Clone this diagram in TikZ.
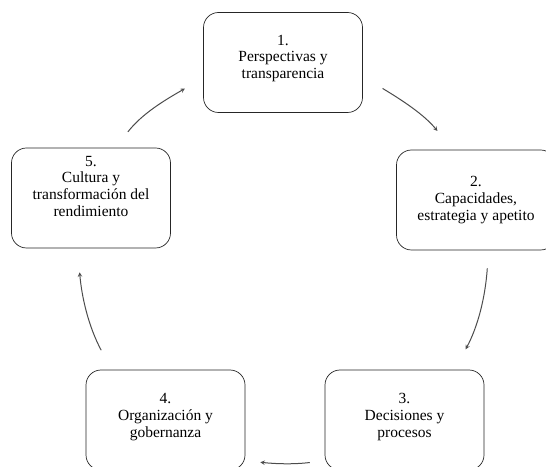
\documentclass[tikz,border=0pt]{standalone}
\usepackage{fontspec}
\setmainfont{Liberation Serif}

% text of a stage, lifted a little inside its box
\newcommand{\stagetext}[2]{\raisebox{#1}[\height][\depth]{\begin{tabular}{@{}c@{}}#2\end{tabular}}}

\begin{document}
\begin{tikzpicture}[x=1pt,y=1pt,>=stealth,
  stage/.style={draw=black!85, line width=0.7pt, rounded corners=15pt,
    minimum width=159pt, minimum height=100pt, inner sep=0pt,
    font=\fontsize{15.5}{16.8}\selectfont},
  cyc/.style={->, black!70, line width=1pt}]

  \useasboundingbox (0,0) rectangle (546,466);
  \clip (0,0) rectangle (546,466);

  % Stages
  \node[stage] (p1) at (283,403.5) {\stagetext{4pt}{1.\\Perspectivas y\\transparencia}};
  \node[stage] (p2) at (476,266) {\stagetext{0pt}{2.\\Capacidades,\\estrategia y apetito}};
  \node[stage] (p3) at (404.5,46) {\stagetext{3pt}{3.\\Decisiones y\\procesos}};
  \node[stage] (p4) at (165.5,46) {\stagetext{3pt}{4.\\Organizaci\'on y\\gobernanza}};
  \node[stage] (p5) at (91,268) {\stagetext{10pt}{5.\\Cultura y\\transformaci\'on del\\rendimiento}};

  % Cycle
  \draw[cyc, shorten <=23pt, shorten >=24pt] (p1.-10) to[out=-31, in=129] (p2.115);
  \draw[cyc, shorten <=18pt, shorten >=23pt] (p2.-76) to[out=-94, in=62] (p3.45);
  \draw[cyc, shorten <=15pt, shorten >=15pt] (p3.207) to[out=187, in=-6] (p4.-27);
  \draw[cyc, shorten <=22pt, shorten >=24pt] (p4.137) to[out=118, in=-85] (p5.-105);
  \draw[cyc, shorten <=20pt, shorten >=21pt] (p5.64) to[out=52, in=210] (p1.191);
\end{tikzpicture}
\end{document}
